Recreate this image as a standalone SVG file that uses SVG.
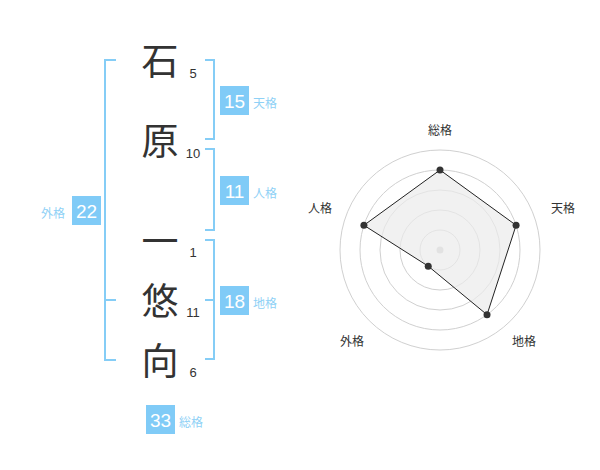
<svg xmlns="http://www.w3.org/2000/svg" width="600" height="470" viewBox="0 0 600 470">
<style>
.ch{font-family:"Noto Sans CJK JP","Noto Sans CJK SC",sans-serif;font-size:37px;fill:#333;text-anchor:middle}
.num{font-family:"Liberation Sans",Arial,sans-serif;font-size:13px;fill:#333;text-anchor:middle}
.br{fill:none;stroke:#85cdf6;stroke-width:2}
.box{fill:#80cbf7}
.bv{font-family:"Liberation Sans",Arial,sans-serif;font-size:19px;fill:#fff;text-anchor:middle}
.bl{font-family:"Noto Sans CJK JP","Noto Sans CJK SC",sans-serif;font-size:12px;fill:#8fd1f6}
.ring{fill:none;stroke:#d0d0d0;stroke-width:1}
.rl{font-family:"Noto Sans CJK JP","Noto Sans CJK SC",sans-serif;font-size:12px;fill:#333;text-anchor:middle}
.pt{fill:#333}
</style>
<rect width="600" height="470" fill="#fff"/>
<g id="chars">
<text class="ch" x="160" y="75">石</text>
<text class="ch" x="160" y="155">原</text>
<text class="ch" x="160" y="255">一</text>
<text class="ch" x="160" y="315">悠</text>
<text class="ch" x="160" y="375">向</text>
<text class="num" x="193" y="78">5</text>
<text class="num" x="193" y="158">10</text>
<text class="num" x="193" y="257">1</text>
<text class="num" x="193" y="317">11</text>
<text class="num" x="193" y="377">6</text>
</g>
<g id="connectors">
<path class="br" d="M116,60 H105 V360 H116 M105,300 H116"/>
<path class="br" d="M205,60 H214 V139 H205"/>
<path class="br" d="M205,149 H214 V230 H205"/>
<path class="br" d="M205,240 H214 V359 H205 M214,300 H205"/>
</g>
<g id="tenkaku">
<rect class="box" x="220" y="86" width="29" height="29"/>
<text class="bv" x="234.5" y="107.5">15</text>
<text class="bl" x="253" y="108">天格</text>
</g>
<g id="jinkaku">
<rect class="box" x="220" y="176" width="29" height="29"/>
<text class="bv" x="234.5" y="197.5">11</text>
<text class="bl" x="253" y="198">人格</text>
</g>
<g id="chikaku">
<rect class="box" x="220" y="286" width="29" height="29"/>
<text class="bv" x="234.5" y="307.5">18</text>
<text class="bl" x="253" y="308">地格</text>
</g>
<g id="gaikaku">
<rect class="box" x="72" y="196" width="29" height="29"/>
<text class="bv" x="86.5" y="217.5">22</text>
<text class="bl" x="41" y="218">外格</text>
</g>
<g id="soukaku">
<rect class="box" x="146" y="405" width="29" height="29"/>
<text class="bv" x="160.5" y="426.5">33</text>
<text class="bl" x="179" y="427">総格</text>
</g>
<g id="radar">
<circle class="ring" cx="440" cy="250" r="20"/>
<circle class="ring" cx="440" cy="250" r="40"/>
<circle class="ring" cx="440" cy="250" r="60"/>
<circle class="ring" cx="440" cy="250" r="80"/>
<circle class="ring" cx="440" cy="250" r="100"/>
<circle cx="440" cy="250" r="3.5" fill="#ccc"/>
<polygon points="440,170 516.08,225.28 487.02,314.72 428.24,266.18 363.92,225.28" fill="#ebebeb" fill-opacity="0.7" stroke="#222" stroke-width="1"/>
<circle class="pt" cx="440" cy="170" r="3.5"/>
<circle class="pt" cx="516.08" cy="225.28" r="3.5"/>
<circle class="pt" cx="487.02" cy="314.72" r="3.5"/>
<circle class="pt" cx="428.24" cy="266.18" r="3.5"/>
<circle class="pt" cx="363.92" cy="225.28" r="3.5"/>
<text class="rl" x="440" y="135">総格</text>
<text class="rl" x="563" y="213">天格</text>
<text class="rl" x="524" y="346">地格</text>
<text class="rl" x="352" y="346">外格</text>
<text class="rl" x="320" y="213">人格</text>
</g>
</svg>
